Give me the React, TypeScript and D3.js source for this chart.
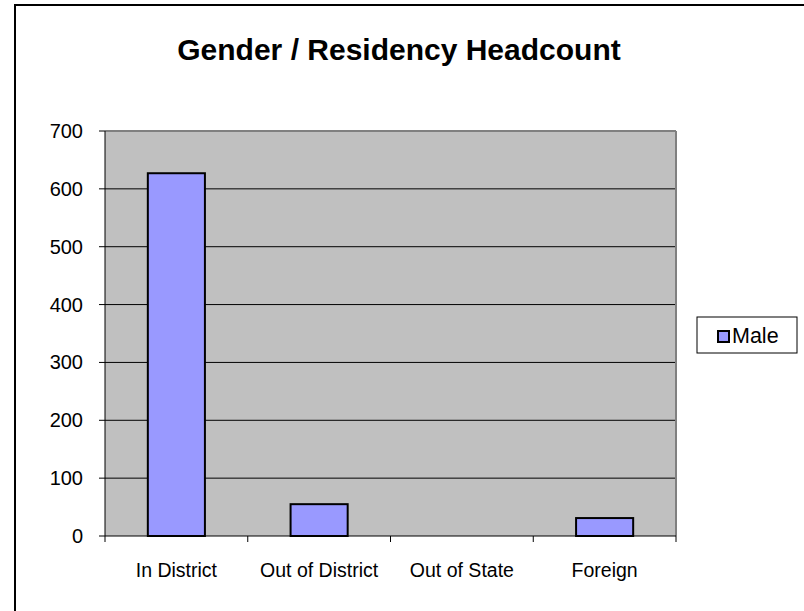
import React from "react";
import * as d3 from "d3";

const categories = ["In District", "Out of District", "Out of State", "Foreign"];
const maleValues = [627, 55, 0, 31];
const yTicks = [0, 100, 200, 300, 400, 500, 600, 700];
const seriesName = "Male";
const title = "Gender / Residency Headcount";

export default function App() {
  const W = 804, H = 611;
  const plot = { left: 105, right: 676, top: 131, bottom: 536 };
  const x = d3.scaleBand<string>().domain(categories).range([plot.left, plot.right]).paddingInner(0).paddingOuter(0);
  const y = d3.scaleLinear().domain([0, 700]).range([plot.bottom, plot.top]);
  const bw = x.bandwidth() * 0.4;
  const font = "'Liberation Sans', Arial, sans-serif";
  const boundaries = [...categories.map((c) => x(c)!), plot.right];

  return (
    <svg width={W} height={H} style={{ position: "absolute", left: 0, top: 0, display: "block", background: "#fff" }}>
      <rect x={15} y={5} width={820} height={640} fill="#fff" stroke="#000" strokeWidth={2} />
      <text x={399} y={60} textAnchor="middle" fontFamily={font} fontWeight="bold" fontSize={30}>{title}</text>

      <rect x={plot.left} y={plot.top} width={plot.right - plot.left} height={plot.bottom - plot.top} fill="#c0c0c0" />
      {yTicks.filter((t) => t > 0).map((t) => (
        <line key={"g" + t} x1={plot.left} x2={plot.right} y1={y(t)} y2={y(t)} stroke="#000" strokeWidth={1} />
      ))}
      <line x1={plot.left} x2={plot.right} y1={plot.top} y2={plot.top} stroke="#808080" strokeWidth={2} />
      <line x1={plot.right} x2={plot.right} y1={plot.top} y2={plot.bottom} stroke="#808080" strokeWidth={2} />

      {categories.map((c, i) => {
        const v = maleValues[i];
        const cx = x(c)! + x.bandwidth() / 2;
        return v > 0 ? (
          <rect key={c} x={cx - bw / 2} y={y(v)} width={bw} height={y(0) - y(v)} fill="#9999ff" stroke="#000" strokeWidth={2} />
        ) : null;
      })}

      <line x1={plot.left} x2={plot.left} y1={plot.top} y2={plot.bottom} stroke="#000" strokeWidth={1} />
      <line x1={plot.left} x2={plot.right} y1={plot.bottom} y2={plot.bottom} stroke="#000" strokeWidth={1} />
      {yTicks.map((t) => (
        <g key={"t" + t}>
          <line x1={plot.left - 6} x2={plot.left} y1={y(t)} y2={y(t)} stroke="#000" strokeWidth={1} />
          <text x={83} y={y(t)} dy="0.35em" textAnchor="end" fontFamily={font} fontSize={20}>{t}</text>
        </g>
      ))}
      {boundaries.map((bx, i) => (
        <line key={"b" + i} x1={bx} x2={bx} y1={plot.bottom} y2={plot.bottom + 6} stroke="#000" strokeWidth={1} />
      ))}
      {categories.map((c) => (
        <text key={"l" + c} x={x(c)! + x.bandwidth() / 2} y={577} textAnchor="middle" fontFamily={font} fontSize={19.5}>{c}</text>
      ))}

      <rect x={697} y={317} width={100} height={36} fill="#fff" stroke="#000" strokeWidth={1} />
      <rect x={718} y={331} width={11} height={11} fill="#9999ff" stroke="#000" strokeWidth={2} />
      <text x={732} y={343} fontFamily={font} fontSize={21.5}>{seriesName}</text>
    </svg>
  );
}
